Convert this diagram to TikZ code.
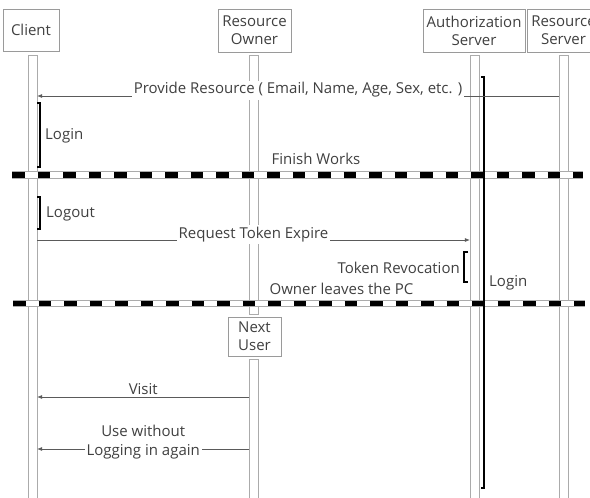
\documentclass[tikz,border=0pt]{standalone}
\usepackage{fontspec}
\setmainfont{Open Sans}
\usetikzlibrary{arrows.meta}
\definecolor{txtgray}{HTML}{404040}
\definecolor{boxgray}{HTML}{9A9A9A}
\definecolor{bargray}{HTML}{ABABAB}
\definecolor{msggray}{HTML}{5A5A5A}
\tikzset{
  actor/.style={draw=boxgray, fill=white, align=center, text=txtgray, inner sep=0pt,
    font=\fontsize{15}{18}\selectfont},
  lifebar/.style={draw=bargray, fill=white, minimum width=9pt, inner sep=0pt},
  msg/.style={draw=msggray, line width=0.6pt, -{Latex[length=5pt,width=4pt]}},
  lbl/.style={fill=white, text=txtgray, inner sep=2pt, align=center,
    font=\fontsize{15}{19}\selectfont},
  note/.style={text=txtgray, inner sep=0pt, font=\fontsize{15}{18}\selectfont},
  bracket/.style={draw=black, line width=1.1pt},
  sepline/.style={draw=bargray, line width=0.8pt, double=white, double distance=5.5pt},
  sepdash/.style={draw=black, line width=5.5pt, dash pattern=on 12.5pt off 13pt}
}
\begin{document}
\begin{tikzpicture}[x=1pt,y=-1pt]
    \clip (0,0) rectangle (590,498);
    % Lifelines
    \node[lifebar, minimum height=450pt] (clbar) at (32.5,280) {};
    \node[lifebar, minimum height=259pt] (robar) at (254,184.5) {};
    \node[lifebar, minimum height=146pt] (nubar) at (254,432) {};
    \node[lifebar, minimum height=450pt] (asbar) at (474.5,280) {};
    \node[lifebar, minimum height=450pt] (rsbar) at (563.5,280) {};
    % Actors
    \node[actor, minimum width=56pt, minimum height=42pt] (client) at (31,30) {Client};
    \node[actor, minimum width=73pt, minimum height=43pt] (owner) at (254.5,30.5) {Resource\\Owner};
    \node[actor, minimum width=102pt, minimum height=43pt] (auth) at (474,30.5) {Authorization\\Server};
    \node[actor, minimum width=73pt, minimum height=43pt] (rserver) at (563.5,30.5) {Resource\\Server};
    \node[actor, minimum width=53pt, minimum height=39pt] (nextuser) at (254.5,336.5) {Next\\User};
    % Separators
    \draw[sepline] (12,175) -- (583,175);
    \draw[sepdash] (12,175) -- (583,175);
    \draw[sepline] (13,303.5) -- (585,303.5);
    \draw[sepdash] (13,303.5) -- (585,303.5);
    % Authorization server session
    \draw[bracket] (481,77) -- (484,77) -- (484,488) -- (481,488);
    \node[note, anchor=west] (asLogin) at (489,283) {Login};
    % Client brackets
    \draw[bracket] (37,103) -- (40,103) -- (40,167) -- (37,167);
    \node[note, anchor=west] (clLogin) at (45,136) {Login};
    \draw[bracket] (37,197) -- (40,197) -- (40,229) -- (37,229);
    \node[note, anchor=west] (clLogout) at (46,214) {Logout};
    % Token revocation
    \draw[bracket] (468,252) -- (464,252) -- (464,282) -- (468,282);
    \node[note, anchor=east] (revoke) at (460,268) {Token Revocation};
    % Phase notes
    \node[note] (finish) at (316,159) {Finish Works};
    \node[note] (leaves) at (341.5,289) {Owner leaves the PC};
    % Messages
    \coordinate (m1) at (0,96);
    \coordinate (m2) at (0,240);
    \coordinate (m3) at (0,397);
    \coordinate (m4) at (0,449);
    \draw[msg] (rsbar.west |- m1) -- node[lbl, yshift=6pt] {Provide Resource ( Email, Name, Age, Sex, etc. )} (clbar.east |- m1);
    \draw[msg] (clbar.east |- m2) -- node[lbl, yshift=5.5pt] {Request Token Expire} (asbar.west |- m2);
    \draw[msg] (nubar.west |- m3) -- node[lbl, yshift=8pt] {Visit} (clbar.east |- m3);
    \draw[msg] (nubar.west |- m4) -- node[lbl, yshift=7pt] {Use without\\Logging in again} (clbar.east |- m4);
\end{tikzpicture}
\end{document}
